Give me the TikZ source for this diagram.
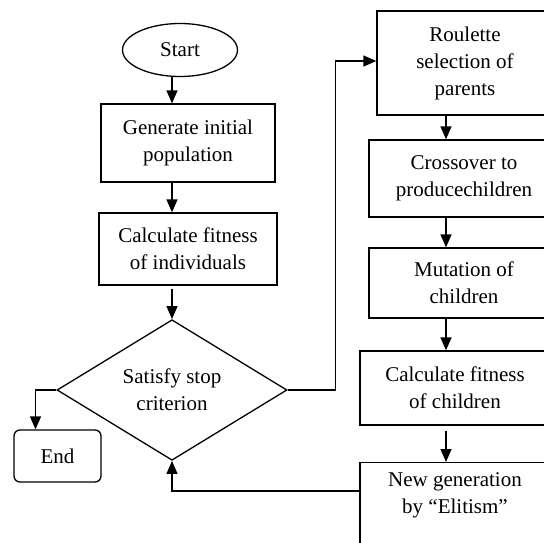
\documentclass[tikz,border=0pt]{standalone}
\usepackage{fontspec}
\setmainfont{Liberation Serif}
\usetikzlibrary{shapes.geometric,arrows.meta}

\begin{document}
\begin{tikzpicture}[x=1pt,y=-1pt,
    font=\fontsize{21pt}{27pt}\selectfont,
    line width=1.3pt,
    box/.style={draw, rectangle, align=center, inner sep=0pt},
    term/.style={draw, ellipse, inner sep=0pt},
    test/.style={draw, diamond, align=center, inner sep=0pt},
    >={Triangle[length=13pt,width=11pt]},
    ]
\useasboundingbox (0,0) rectangle (544,542);
\clip (0,0) rectangle (544,542);

% left column
\node[term, minimum width=115pt, minimum height=53pt] (start) at (180,50) {Start};
\node[box, minimum width=174pt, minimum height=78pt] (gen) at (188,143) {Generate initial\\population};
\node[box, minimum width=178pt, minimum height=72pt] (fit) at (188,249) {Calculate fitness\\of individuals};
\node[test, minimum width=230pt, minimum height=140pt] (stop) at (172,390) {Satisfy stop\\criterion};
\node[box, rounded corners=6pt, minimum width=87pt, minimum height=52pt] (end) at (57.5,456) {End};

% right column
\node[box, minimum width=176pt, minimum height=104pt] (rou) at (465,63) {Roulette\\selection of\\parents};
\node[box, minimum width=190pt, minimum height=77pt] (cro) at (464,178.5) {Crossover to\\producechildren};
\node[box, minimum width=190pt, minimum height=70pt] (mut) at (464,283) {Mutation of\\children};
\node[box, minimum width=190pt, minimum height=74pt] (cfc) at (455,388) {Calculate fitness\\of children};
\node[box, anchor=north, minimum width=190pt, inner ysep=10pt, text depth=90pt] (new) at (455,462) {New generation\\by ``Elitism''};

\coordinate (rx) at (446,0);

\draw[->] (start.south -| stop.north) -- (gen.north -| stop.north);
\draw[->] (gen.south -| stop.north) -- (fit.north -| stop.north);
\draw[->] ([yshift=-3pt]fit.south -| stop.north) -- (stop.north);
\draw[->] (stop.west) -| ([xshift=-22pt]end.north);
\draw[->] (stop.east) -- ++(48,0) |- ([yshift=2pt]rou.west);

\draw[->] (rou.south -| rx) -- (cro.north -| rx);
\draw[->] (cro.south -| rx) -- (mut.north -| rx);
\draw[->] (mut.south -| rx) -- (cfc.north -| rx);
\draw[->, shorten <=5pt] (cfc.south -| rx) -- (new.north -| rx);
\draw[->] ([yshift=-29pt]new.north west) -| (stop.south);
\end{tikzpicture}
\end{document}
